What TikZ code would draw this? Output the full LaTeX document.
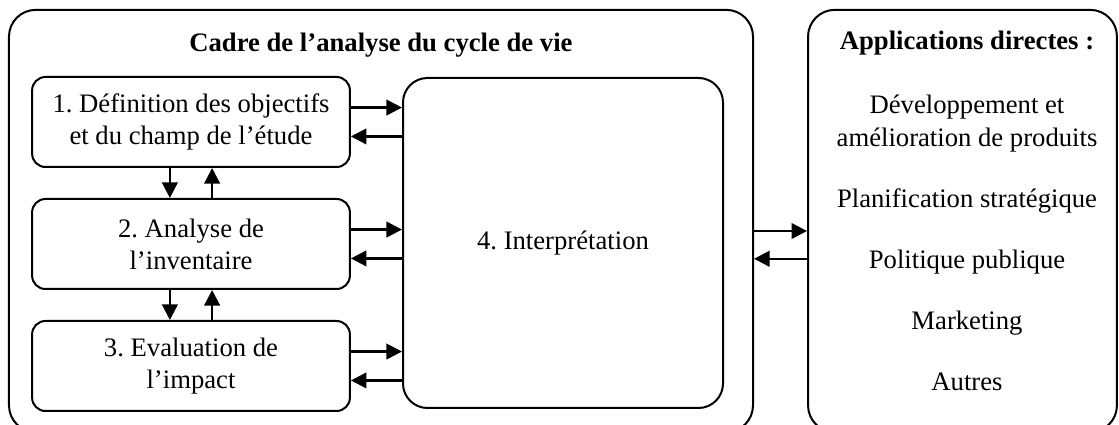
\documentclass[12pt,tikz,border=0pt]{standalone}
\usepackage{fontspec}
\setmainfont{Liberation Serif}
\usetikzlibrary{positioning, arrows.meta}
\frenchspacing

\tikzset{
    etape/.style={draw, line width=0.9pt, rounded corners=6pt, align=center,
        minimum width=143pt, minimum height=40.5pt, inner sep=0pt},
    cadre/.style={draw, line width=0.9pt, rounded corners=12pt, inner sep=0pt},
    fleche/.style={-{Triangle[length=7pt, width=7pt]}, line width=1pt},
}

\begin{document}
\begin{tikzpicture}[x=0.45pt, y=-0.45pt]
        \useasboundingbox (0,0) rectangle (1119,425);
        \node [cadre, minimum width=334.8pt, minimum height=190pt] (acv) at (381,221) {};
        \node [cadre, minimum width=139pt, minimum height=190pt] (applis) at (962.5,221) {};
        \node [font=\bfseries] (titre) at (381,45) {Cadre de l’analyse du cycle de vie};
        \node [font=\bfseries] (titreapp) at (967,43) {Applications directes :};
        \node [etape] (1) at (191,122) {1. Définition des objectifs\\et du champ de l’étude};
        \node [etape, below=13.5pt of 1] (2) {2. Analyse de\\l’inventaire};
        \node [etape, below=13.5pt of 2] (3) {3. Evaluation de\\l’impact};
        \node [cadre, rounded corners=11pt, minimum width=144pt, minimum height=148.5pt] (4) at (563,243) {4. Interprétation};
        \node [align=center, inner sep=0pt] (liste) at (967,243) {Développement et\\amélioration de produits\\[13pt]Planification stratégique\\[13pt]Politique publique\\[13pt]Marketing\\[13pt]Autres};
        \foreach \n in {1,2,3} {
            \draw [fleche] ([yshift=6.5pt]\n.east) -- ([yshift=6.5pt]\n.east -| 4.west);
            \draw [fleche] ([yshift=-6.5pt]\n.east -| 4.west) -- ([yshift=-6.5pt]\n.east);
        }
        \draw [fleche] ([xshift=-9.5pt]1.south) -- ([xshift=-9.5pt]2.north);
        \draw [fleche] ([xshift=9.5pt]2.north) -- ([xshift=9.5pt]1.south);
        \draw [fleche] ([xshift=-9.5pt]2.south) -- ([xshift=-9.5pt]3.north);
        \draw [fleche] ([xshift=9.5pt]3.north) -- ([xshift=9.5pt]2.south);
        \draw [fleche] ([yshift=-4.5pt]acv.east) -- ([yshift=-4.5pt]acv.east -| applis.west);
        \draw [fleche] ([yshift=-17pt]acv.east -| applis.west) -- ([yshift=-17pt]acv.east);
    \end{tikzpicture}
\end{document}
